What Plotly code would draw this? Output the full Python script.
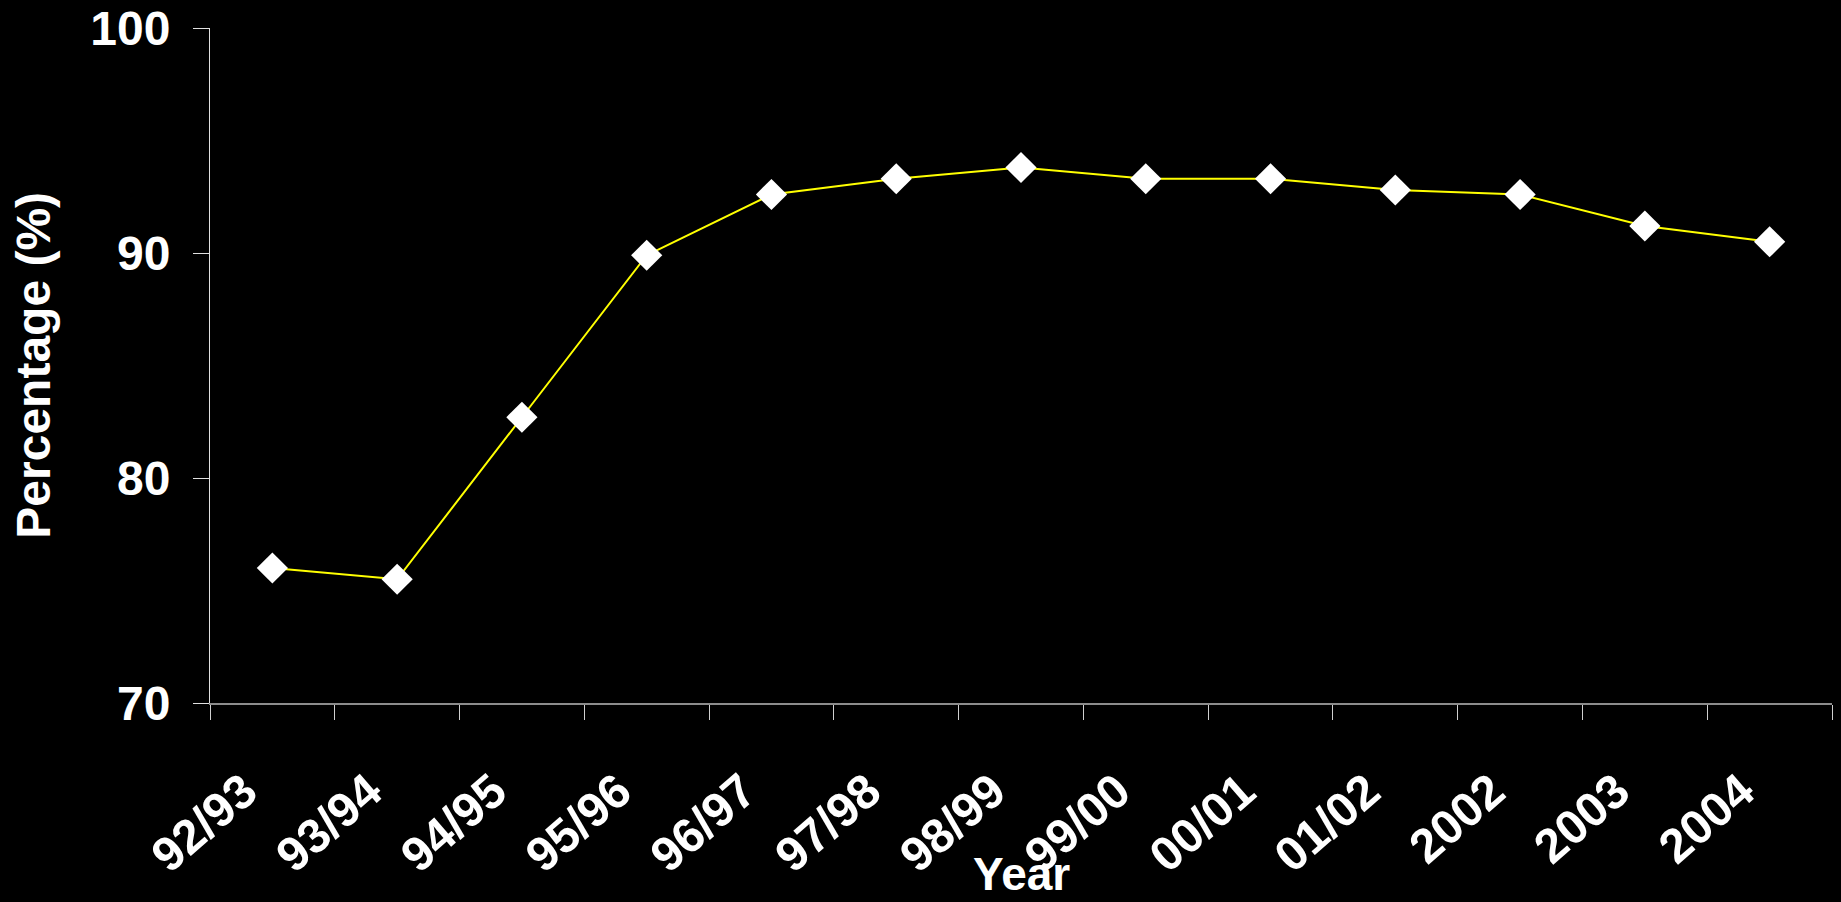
import plotly.graph_objects as go

years = ["92/93", "93/94", "94/95", "95/96", "96/97", "97/98", "98/99",
         "99/00", "00/01", "01/02", "2002", "2003", "2004"]
percentage = [76.0, 75.5, 82.7, 89.9, 92.6, 93.3, 93.8, 93.3, 93.3, 92.8, 92.6, 91.2, 90.5]
y_ticks = [70, 80, 90, 100]

FONT = "Liberation Sans, Arial, sans-serif"

fig = go.Figure()
fig.add_trace(go.Scatter(
    x=years, y=percentage, mode="lines+markers",
    line=dict(color="#FFFF00", width=2),
    marker=dict(symbol="diamond", size=24, color="white", line=dict(width=0)),
    showlegend=False, cliponaxis=False,
))

fig.update_layout(
    width=1841, height=902,
    paper_bgcolor="black", plot_bgcolor="black",
    margin=dict(l=210, r=9, t=28, b=199),
    font=dict(family=FONT, color="white"),
    xaxis=dict(
        type="category", tickson="boundaries", automargin=False,
        showline=True, linecolor="#8c8c8c", linewidth=2,
        ticks="outside", ticklen=15, tickcolor="#d0d0d0", tickwidth=1,
        tickangle=-41, showgrid=False, zeroline=False,
        tickfont=dict(family=FONT, size=48, color="white", weight="bold"),
        ticklabelstandoff=39, ticklabelshift=-28, ticklabeloverflow="allow",
        range=[-0.5, 12.5],
    ),
    yaxis=dict(
        range=[70, 100], tickvals=y_ticks, automargin=False,
        showline=True, linecolor="#e0e0e0", linewidth=1,
        ticks="outside", ticklen=16, tickcolor="#e0e0e0", tickwidth=1,
        showgrid=False, zeroline=False,
        tickfont=dict(family=FONT, size=48, color="white", weight="bold"),
        ticklabelstandoff=13, ticklabeloverflow="allow",
    ),
    annotations=[
        dict(text="Percentage (%)", textangle=-90, xref="paper", yref="paper",
             x=-0.109, y=0.5, xanchor="center", yanchor="middle", showarrow=False,
             font=dict(family=FONT, size=48, color="white", weight="bold")),
        dict(text="Year", xref="paper", yref="paper",
             x=0.5, y=-0.253, xanchor="center", yanchor="middle", showarrow=False,
             font=dict(family=FONT, size=46, color="white", weight="bold")),
    ],
)

fig.write_html(
    "out.html",
    config={"displayModeBar": False},
    post_script="document.body.style.margin='0';document.body.style.background='black';",
)
